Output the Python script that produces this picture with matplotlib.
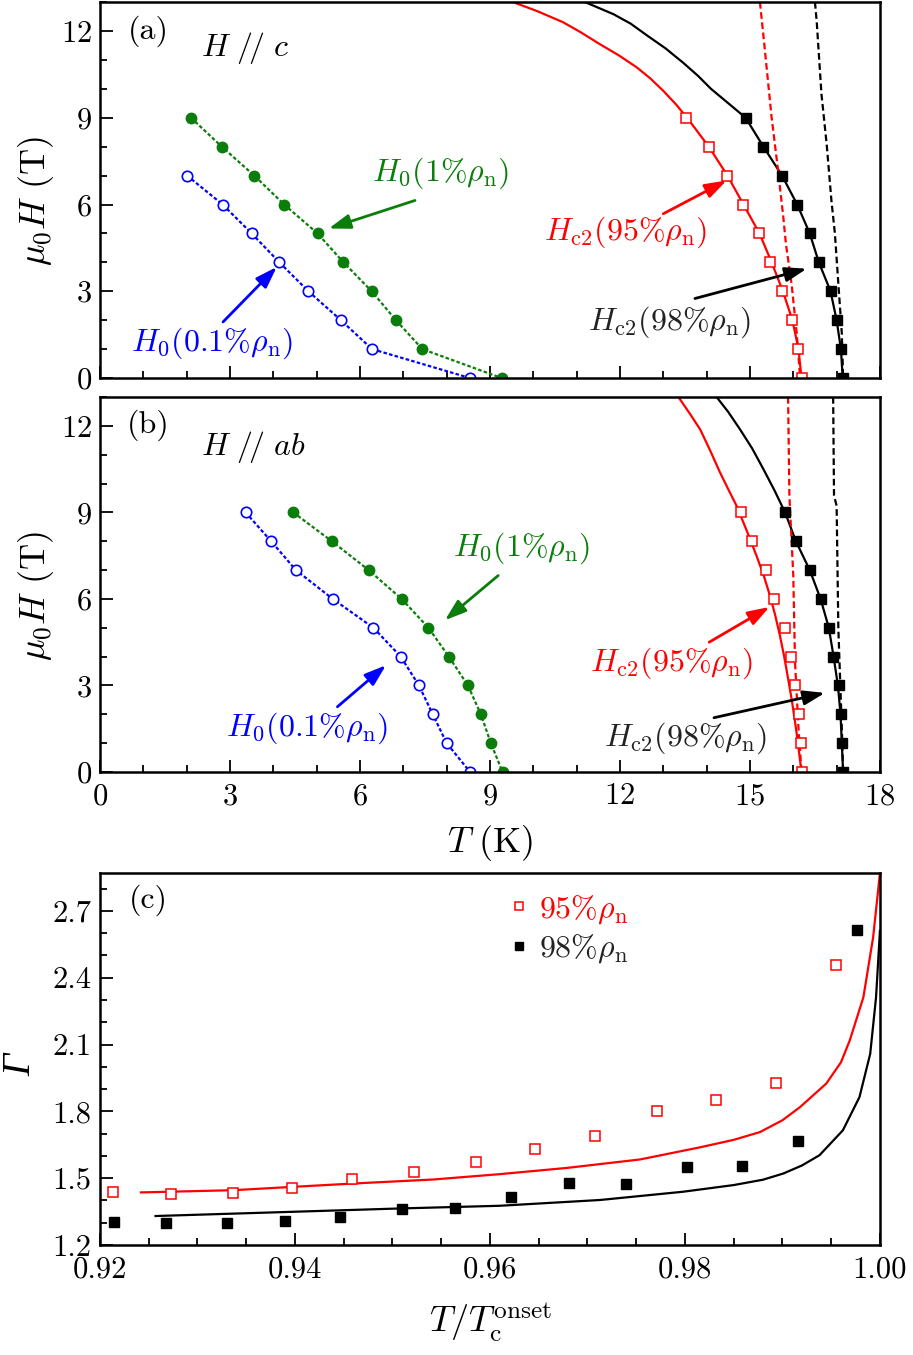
import matplotlib
matplotlib.use('Agg')
import matplotlib.pyplot as plt
from matplotlib.ticker import MultipleLocator

plt.rcParams['font.family'] = 'serif'
plt.rcParams['font.serif'] = ['cmr10']
plt.rcParams['mathtext.fontset'] = 'cm'
plt.rcParams['axes.formatter.use_mathtext'] = True

GREEN = '#0b7d0b'
BLUE = '#0000ff'
RED = '#ff0000'

# ---------------- panel (a): H // c ----------------
a_H = [9, 8, 7, 6, 5, 4, 3, 2, 1, 0]
a_T_h0_1 = [2.10, 2.81, 3.56, 4.25, 5.02, 5.62, 6.27, 6.83, 7.44, 9.27]
a_H_h0_01 = [7, 6, 5, 4, 3, 2, 1, 0]
a_T_h0_01 = [2.01, 2.83, 3.50, 4.14, 4.81, 5.56, 6.28, 8.54]
a_T_95 = [13.52, 14.05, 14.48, 14.85, 15.22, 15.47, 15.75, 15.98, 16.12, 16.19]
a_T_98 = [14.90, 15.31, 15.74, 16.09, 16.38, 16.59, 16.86, 17.00, 17.10, 17.14]

# fit curves (T, H)
a_fit95_T = [9.53, 10.10, 10.69, 11.10, 11.54, 11.97, 12.38, 12.70, 13.00, 13.30, 13.60,
             14.05, 14.48, 14.85, 15.22, 15.50, 15.76, 15.98, 16.12, 16.19]
a_fit95_H = [13.0, 12.68, 12.3, 11.95, 11.54, 11.16, 10.75, 10.36, 9.93, 9.45, 8.9,
             8.0, 7.0, 6.0, 5.0, 4.0, 3.0, 2.0, 1.0, 0.0]
a_fit98_T = [11.19, 11.85, 12.25, 12.62, 13.05, 13.46, 13.80, 14.10, 14.50, 14.90, 15.31,
             15.74, 16.09, 16.38, 16.59, 16.86, 17.00, 17.10, 17.14]
a_fit98_H = [13.0, 12.58, 12.25, 11.85, 11.4, 10.9, 10.45, 10.0, 9.5, 9.0, 8.0,
             7.0, 6.0, 5.0, 4.0, 3.0, 2.0, 1.0, 0.0]
a_dash95_T = [15.23, 15.31, 15.50, 15.64, 15.77, 15.83, 15.96, 16.08, 16.15, 16.17]
a_dash95_H = [13.0, 11.85, 9.01, 7.29, 5.56, 4.64, 3.26, 1.54, 0.16, 0.0]
a_dash98_T = [16.50, 16.54, 16.65, 16.77, 16.88, 16.96, 17.04, 17.12, 17.15]
a_dash98_H = [13.0, 12.34, 9.82, 8.09, 6.14, 5.0, 3.26, 1.54, 0.0]

# ---------------- panel (b): H // ab ----------------
b_H = [9, 8, 7, 6, 5, 4, 3, 2, 1, 0]
b_T_h0_1 = [4.46, 5.35, 6.20, 6.96, 7.58, 8.05, 8.49, 8.79, 9.02, 9.29]
b_T_h0_01 = [3.36, 3.95, 4.52, 5.37, 6.31, 6.94, 7.36, 7.68, 8.00, 8.54]
b_T_95 = [14.79, 15.04, 15.36, 15.56, 15.82, 15.95, 16.05, 16.13, 16.17, 16.19]
b_T_98 = [15.81, 16.06, 16.38, 16.63, 16.82, 16.91, 17.05, 17.09, 17.12, 17.15]

b_fit95_T = [13.35, 13.60, 13.85, 14.08, 14.31, 14.50, 14.69, 14.93, 15.15, 15.32, 15.46,
             15.58, 15.69, 15.79, 15.88, 15.97, 16.04, 16.10, 16.14, 16.19]
b_fit95_H = [13.0, 12.45, 11.88, 11.15, 10.38, 9.8, 9.23, 8.35, 7.5, 6.8, 6.12,
             5.45, 4.74, 4.0, 3.24, 2.45, 1.74, 1.1, 0.59, 0.0]
b_fit98_T = [14.23, 14.50, 14.77, 15.05, 15.31, 15.57, 15.81, 16.06, 16.38, 16.63, 16.82,
             16.93, 17.03, 17.09, 17.12, 17.15]
b_fit98_H = [13.0, 12.48, 11.88, 11.22, 10.5, 9.75, 9.0, 8.0, 7.0, 6.0, 5.0,
             4.0, 3.0, 2.0, 1.0, 0.0]
b_dash95_T = [15.88, 15.91, 16.00, 16.04, 16.12, 16.19]
b_dash95_H = [13.0, 9.58, 6.81, 3.81, 1.51, 0.0]
b_dash98_T = [16.92, 16.94, 17.00, 17.04, 17.12, 17.15]
b_dash98_H = [13.0, 9.58, 9.23, 4.97, 1.51, 0.0]

# ---------------- panel (c): anisotropy ----------------
c_x95 = [0.9213, 0.9273, 0.9336, 0.9397, 0.9459, 0.9522, 0.9586, 0.9646, 0.9708, 0.9771, 0.9832, 0.9893, 0.9955]
c_g95 = [1.439, 1.428, 1.433, 1.454, 1.496, 1.527, 1.573, 1.631, 1.688, 1.803, 1.849, 1.929, 2.458]
c_x98 = [0.9214, 0.9268, 0.9330, 0.9390, 0.9446, 0.9510, 0.9564, 0.9622, 0.9681, 0.9740, 0.9802, 0.9859, 0.9916, 0.9976]
c_g98 = [1.303, 1.299, 1.299, 1.309, 1.327, 1.361, 1.366, 1.416, 1.479, 1.474, 1.549, 1.554, 1.667, 2.614]

c_fit95_x = [0.9242, 0.9337, 0.9398, 0.9460, 0.9542, 0.9610, 0.9679, 0.9754, 0.9815, 0.9850,
             0.9877, 0.9900, 0.9918, 0.9945, 0.9960, 0.9969, 0.9983, 0.9993, 1.0]
c_fit95_g = [1.436, 1.446, 1.461, 1.476, 1.494, 1.518, 1.546, 1.584, 1.638, 1.672,
             1.707, 1.760, 1.819, 1.925, 2.020, 2.118, 2.312, 2.581, 2.87]
c_fit98_x = [0.9257, 0.9398, 0.9508, 0.9610, 0.9713, 0.9798, 0.9850, 0.9880, 0.9901, 0.9920,
             0.9938, 0.9962, 0.9979, 0.9990, 0.9996, 1.0]
c_fit98_g = [1.330, 1.349, 1.364, 1.376, 1.402, 1.439, 1.469, 1.493, 1.521, 1.557,
             1.603, 1.715, 1.864, 2.058, 2.312, 2.611]

FS_TICK = 22
FS_LAB = 26
FS_TXT = 23

fig = plt.figure(figsize=(9.13, 13.55), dpi=100)
ax_a = fig.add_axes([0.1095, 0.7210, 0.8543, 0.2775])
ax_b = fig.add_axes([0.1095, 0.4303, 0.8543, 0.2767])
ax_c = fig.add_axes([0.1095, 0.0812, 0.8543, 0.2745])

dot = (0, (1.6, 1.0))
dash = (0, (3.0, 1.6))


def style_axes(ax):
    for s in ax.spines.values():
        s.set_linewidth(1.8)
    ax.tick_params(which='both', direction='in', top=False, right=False,
                   labelsize=FS_TICK, width=1.3)
    ax.tick_params(which='major', length=9)
    ax.tick_params(which='minor', length=5)
    ax.tick_params(axis='x', pad=8)
    ax.tick_params(axis='y', pad=6)


def draw_field_panel(ax, T1, H1, T01, H01, T95, T98, H, f95, f98, d95, d98):
    ax.plot(T1, H1, ls=dot, lw=1.6, color=GREEN, marker='o', ms=7.5,
            mfc=GREEN, mec=GREEN)
    ax.plot(T01, H01, ls=dot, lw=1.6, color=BLUE, marker='o', ms=7.5,
            mfc='white', mec=BLUE, mew=1.2)
    ax.plot(f95[0], f95[1], color=RED, lw=1.6)
    ax.plot(f98[0], f98[1], color='black', lw=1.6)
    ax.plot(d95[0], d95[1], color=RED, lw=1.6, ls=dash)
    ax.plot(d98[0], d98[1], color='black', lw=1.6, ls=dash)
    ax.plot(T95, H, ls='none', marker='s', ms=6.5, mfc='white', mec=RED, mew=1.1)
    ax.plot(T98, H, ls='none', marker='s', ms=6.5, mfc='black', mec='black')
    ax.set_xlim(0, 18)
    ax.set_ylim(0, 13)
    ax.xaxis.set_major_locator(MultipleLocator(3))
    ax.xaxis.set_minor_locator(MultipleLocator(1))
    ax.yaxis.set_major_locator(MultipleLocator(3))
    ax.yaxis.set_minor_locator(MultipleLocator(1))
    style_axes(ax)
    ax.set_ylabel(r'$\mu_0H\ (\mathrm{T})$', fontsize=FS_LAB)
    ax.yaxis.set_label_coords(-0.056, 0.47)


def arrow(ax, tail, head, color):
    ax.annotate('', xy=head, xytext=tail,
                arrowprops=dict(arrowstyle='-|>,head_length=0.65,head_width=0.22',
                                color=color, lw=2.0, mutation_scale=20,
                                shrinkA=0, shrinkB=0))


# (a)
draw_field_panel(ax_a, a_T_h0_1, a_H, a_T_h0_01, a_H_h0_01, a_T_95, a_T_98, a_H,
                 (a_fit95_T, a_fit95_H), (a_fit98_T, a_fit98_H),
                 (a_dash95_T, a_dash95_H), (a_dash98_T, a_dash98_H))
ax_a.tick_params(axis='x', labelbottom=False)
ax_a.text(0.0615, 0.923, '(a)', transform=ax_a.transAxes, fontsize=FS_TXT,
          ha='center', va='center')
ax_a.text(0.186, 0.878, r'$H\ /\!/\ c$', transform=ax_a.transAxes, fontsize=FS_TXT,
          ha='center', va='center')
ax_a.text(7.85, 7.07, r'$H_0(1\%\rho_{\rm n})$', color=GREEN, fontsize=FS_TXT,
          ha='center', va='center')
arrow(ax_a, (7.27, 6.14), (5.28, 5.17), GREEN)
ax_a.text(2.58, 1.2, r'$H_0(0.1\%\rho_{\rm n})$', color=BLUE, fontsize=FS_TXT,
          ha='center', va='center')
arrow(ax_a, (2.84, 1.94), (4.08, 3.84), BLUE)
ax_a.text(12.12, 5.04, r'$H_{\rm c2}(95\%\rho_{\rm n})$', color=RED, fontsize=FS_TXT,
          ha='center', va='center')
arrow(ax_a, (13.0, 5.68), (14.46, 6.83), RED)
ax_a.text(13.15, 1.94, r'$H_{\rm c2}(98\%\rho_{\rm n})$', color='#222222', fontsize=FS_TXT,
          ha='center', va='center')
arrow(ax_a, (13.73, 2.75), (16.31, 3.78), 'black')

# (b)
draw_field_panel(ax_b, b_T_h0_1, b_H, b_T_h0_01, b_H, b_T_95, b_T_98, b_H,
                 (b_fit95_T, b_fit95_H), (b_fit98_T, b_fit98_H),
                 (b_dash95_T, b_dash95_H), (b_dash98_T, b_dash98_H))
ax_b.set_xlabel(r'$T\ (\mathrm{K})$', fontsize=FS_LAB)
ax_b.xaxis.set_label_coords(0.5, -0.135)
ax_b.text(0.0615, 0.925, '(b)', transform=ax_b.transAxes, fontsize=FS_TXT,
          ha='center', va='center')
ax_b.text(0.196, 0.867, r'$H\ /\!/\ ab$', transform=ax_b.transAxes, fontsize=FS_TXT,
          ha='center', va='center')
ax_b.text(9.74, 7.75, r'$H_0(1\%\rho_{\rm n})$', color=GREEN, fontsize=FS_TXT,
          ha='center', va='center')
arrow(ax_b, (9.19, 6.81), (7.96, 5.26), GREEN)
ax_b.text(4.77, 1.51, r'$H_0(0.1\%\rho_{\rm n})$', color=BLUE, fontsize=FS_TXT,
          ha='center', va='center')
arrow(ax_b, (5.48, 2.26), (6.60, 3.70), BLUE)
ax_b.text(13.19, 3.76, r'$H_{\rm c2}(95\%\rho_{\rm n})$', color=RED, fontsize=FS_TXT,
          ha='center', va='center')
arrow(ax_b, (14.06, 4.50), (15.45, 5.72), RED)
ax_b.text(13.52, 1.16, r'$H_{\rm c2}(98\%\rho_{\rm n})$', color='#222222', fontsize=FS_TXT,
          ha='center', va='center')
arrow(ax_b, (14.17, 1.88), (16.73, 2.74), 'black')

# (c)
ax_c.plot(c_fit95_x, c_fit95_g, color=RED, lw=1.6)
ax_c.plot(c_fit98_x, c_fit98_g, color='black', lw=1.6)
ax_c.plot(c_x95, c_g95, ls='none', marker='s', ms=7, mfc='white', mec=RED,
          mew=1.1, label=r'$95\%\rho_{\rm n}$')
ax_c.plot(c_x98, c_g98, ls='none', marker='s', ms=7, mfc='black', mec='black',
          label=r'$98\%\rho_{\rm n}$')
ax_c.set_xlim(0.92, 1.0)
ax_c.set_ylim(1.2, 2.87)
ax_c.xaxis.set_minor_locator(MultipleLocator(0.005))
ax_c.yaxis.set_minor_locator(MultipleLocator(0.1))
style_axes(ax_c)
ax_c.set_xticks([0.92, 0.94, 0.96, 0.98, 1.00])
ax_c.set_xticklabels(['0.92', '0.94', '0.96', '0.98', '1.00'])
ax_c.set_yticks([1.2, 1.5, 1.8, 2.1, 2.4, 2.7])
ax_c.set_yticklabels(['1.2', '1.5', '1.8', '2.1', '2.4', '2.7'])
ax_c.set_xlabel(r'$T/T_{\rm c}^{\rm onset}$', fontsize=FS_LAB)
ax_c.xaxis.set_label_coords(0.5, -0.15)
# italic capital Gamma (mathtext cm has no italic Greek capitals)
ax_c.set_ylabel('Γ', fontsize=FS_LAB + 2, family='Liberation Serif', style='italic')
ax_c.yaxis.set_label_coords(-0.078, 0.484)
ax_c.text(0.0615, 0.927, '(c)', transform=ax_c.transAxes, fontsize=FS_TXT,
          ha='center', va='center')
ax_c.legend(loc='upper left', bbox_to_anchor=(0.51, 0.98), frameon=False,
            fontsize=FS_TXT, handlelength=0.5, handletextpad=0.4,
            labelspacing=0.2, markerscale=0.8, borderaxespad=0,
            labelcolor=[RED, '#222222'])

fig.savefig('out.png', dpi=100, facecolor='white')
